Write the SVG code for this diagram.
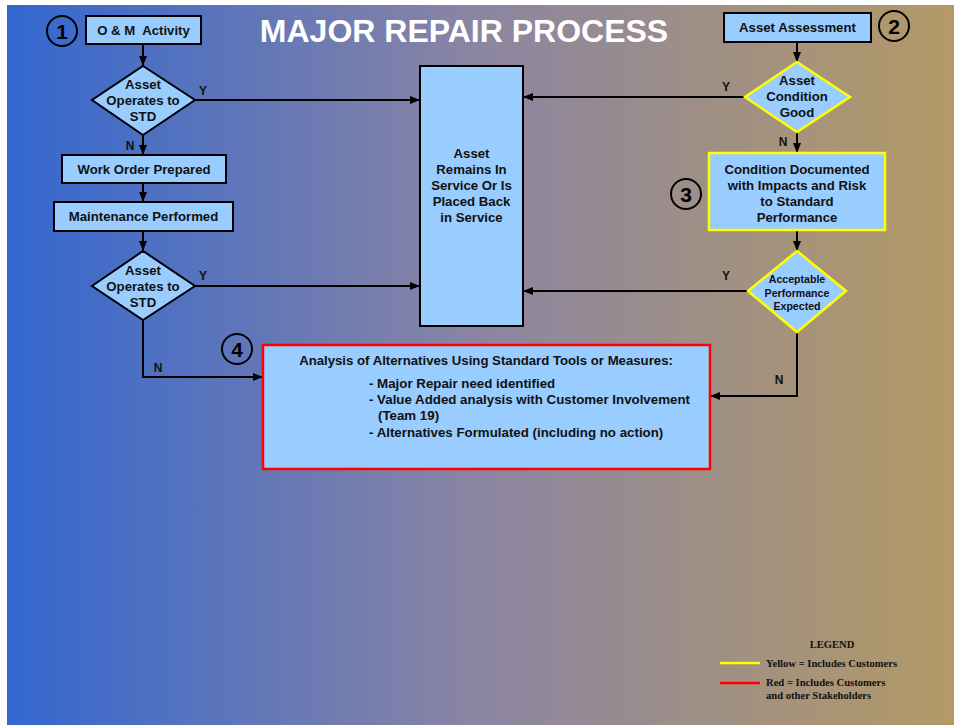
<svg xmlns="http://www.w3.org/2000/svg" width="954" height="725" viewBox="0 0 954 725">
<defs>
<linearGradient id="bg" x1="0" y1="0" x2="1" y2="0">
<stop offset="0" stop-color="#3367D0"/>
<stop offset="0.5" stop-color="#8C85A2"/>
<stop offset="1" stop-color="#B39A66"/>
</linearGradient>
<marker id="ah" viewBox="0 0 10 8" refX="10" refY="4" markerWidth="10" markerHeight="8" markerUnits="userSpaceOnUse" orient="auto">
<path d="M0,0 L10,4 L0,8 Z" fill="#000"/>
</marker>
<style>
.box{fill:#99CCFF;stroke:#000;stroke-width:2}
.ybox{fill:#99CCFF;stroke:#FFFF00;stroke-width:2.5}
.rbox{fill:#99CCFF;stroke:#FF0000;stroke-width:2.5}
.t{font-family:"Liberation Sans",Arial,sans-serif;font-weight:bold;font-size:13.2px;fill:#111;text-anchor:middle}
.ts{font-family:"Liberation Sans",Arial,sans-serif;font-weight:bold;font-size:10.6px;fill:#111;text-anchor:middle}
.tl{font-family:"Liberation Sans",Arial,sans-serif;font-weight:bold;font-size:13.3px;fill:#111}
.num{font-family:"Liberation Sans",Arial,sans-serif;font-weight:bold;font-size:21px;fill:#000;text-anchor:middle}
.circ{fill:none;stroke:#000;stroke-width:2}
.c{fill:none;stroke:#000;stroke-width:2;marker-end:url(#ah)}
.lbl{font-family:"Liberation Sans",Arial,sans-serif;font-weight:bold;font-size:12px;fill:#111;text-anchor:middle}
.leg{font-family:"Liberation Serif","Times New Roman",serif;font-weight:bold;font-size:10.6px;fill:#111}
</style>
</defs>
<rect x="7" y="5" width="947" height="720" fill="url(#bg)"/>
<text x="464" y="42" font-family="Liberation Sans,Arial,sans-serif" font-weight="bold" font-size="32" fill="#FFFFFF" text-anchor="middle">MAJOR REPAIR PROCESS</text>

<g id="connectors">
<path class="c" d="M143,44 V66"/>
<path class="c" d="M195,100 H420"/>
<path class="c" d="M143,135 V155"/>
<path class="c" d="M143,183 V202"/>
<path class="c" d="M143,231 V251"/>
<path class="c" d="M195,286 H420"/>
<path class="c" d="M143,320 V377 H263"/>
<path class="c" d="M797,42 V62"/>
<path class="c" d="M745,97 H523"/>
<path class="c" d="M797,132 V153"/>
<path class="c" d="M797,230 V251"/>
<path class="c" d="M748,291 H523"/>
<path class="c" d="M797,332 V396 H710"/>
<text class="lbl" x="203" y="95">Y</text>
<text class="lbl" x="130" y="150">N</text>
<text class="lbl" x="203" y="280">Y</text>
<text class="lbl" x="158" y="372">N</text>
<text class="lbl" x="726" y="91">Y</text>
<text class="lbl" x="783" y="146">N</text>
<text class="lbl" x="726" y="280">Y</text>
<text class="lbl" x="779" y="384">N</text>
</g>

<g id="marker1">
<circle class="circ" cx="62" cy="31" r="15"/>
<text class="num" x="62" y="39">1</text>
</g>
<g id="om-activity">
<rect class="box" x="86" y="16" width="115" height="28"/>
<text class="t" x="143.5" y="35" xml:space="preserve">O &amp; M  Activity</text>
</g>
<g id="decision1">
<polygon class="box" points="143,66 195,100 143,135 92,100"/>
<text class="t" x="143" y="89">Asset</text>
<text class="t" x="143" y="105">Operates to</text>
<text class="t" x="143" y="121">STD</text>
</g>
<g id="work-order">
<rect class="box" x="62" y="155" width="164" height="28"/>
<text class="t" x="144" y="174">Work Order Prepared</text>
</g>
<g id="maintenance">
<rect class="box" x="54" y="202" width="179" height="29"/>
<text class="t" x="143.5" y="221">Maintenance Performed</text>
</g>
<g id="decision2">
<polygon class="box" points="143,251 195,286 143,320 92,286"/>
<text class="t" x="143" y="275">Asset</text>
<text class="t" x="143" y="291">Operates to</text>
<text class="t" x="143" y="307">STD</text>
</g>
<g id="in-service">
<rect class="box" x="420" y="66" width="103" height="260"/>
<text class="t" x="471.5" y="158">Asset</text>
<text class="t" x="471.5" y="174">Remains In</text>
<text class="t" x="471.5" y="190">Service Or Is</text>
<text class="t" x="471.5" y="206">Placed Back</text>
<text class="t" x="471.5" y="222">in Service</text>
</g>
<g id="marker2">
<circle class="circ" cx="894" cy="26" r="15"/>
<text class="num" x="894" y="34">2</text>
</g>
<g id="asset-assessment">
<rect class="box" x="724" y="13" width="147" height="29"/>
<text class="t" x="797.5" y="32">Asset Assessment</text>
</g>
<g id="decision3">
<polygon class="ybox" points="797,62 850,97 797,132 745,97"/>
<text class="t" x="797" y="85">Asset</text>
<text class="t" x="797" y="101">Condition</text>
<text class="t" x="797" y="117">Good</text>
</g>
<g id="marker3">
<circle class="circ" cx="686" cy="194" r="15"/>
<text class="num" x="686" y="202">3</text>
</g>
<g id="condition-documented">
<rect class="ybox" x="709" y="153" width="176" height="77"/>
<text class="t" x="797" y="174">Condition Documented</text>
<text class="t" x="797" y="190">with Impacts and Risk</text>
<text class="t" x="797" y="206">to Standard</text>
<text class="t" x="797" y="222">Performance</text>
</g>
<g id="decision4">
<polygon class="ybox" points="797,251 846,291 797,332 748,291"/>
<text class="ts" x="797" y="283">Acceptable</text>
<text class="ts" x="797" y="297">Performance</text>
<text class="ts" x="797" y="310">Expected</text>
</g>
<g id="marker4">
<circle class="circ" cx="237" cy="349" r="15"/>
<text class="num" x="237" y="357">4</text>
</g>
<g id="analysis">
<rect class="rbox" x="263" y="345" width="447" height="124"/>
<text class="t" x="486" y="365">Analysis of Alternatives Using Standard Tools or Measures:</text>
<text class="tl" x="369" y="388">- Major Repair need identified</text>
<text class="tl" x="369" y="404">- Value Added analysis with Customer Involvement</text>
<text class="tl" x="378" y="420">(Team 19)</text>
<text class="tl" x="369" y="437">- Alternatives Formulated (including no action)</text>
</g>
<g id="legend">
<text class="leg" x="832" y="648" text-anchor="middle">LEGEND</text>
<line x1="720" y1="663" x2="760" y2="663" stroke="#FFFF00" stroke-width="2.5"/>
<text class="leg" x="766" y="667">Yellow = Includes Customers</text>
<line x1="720" y1="683" x2="760" y2="683" stroke="#FF0000" stroke-width="2.5"/>
<text class="leg" x="766" y="686">Red = Includes Customers</text>
<text class="leg" x="766" y="699">and other Stakeholders</text>
</g>
</svg>
